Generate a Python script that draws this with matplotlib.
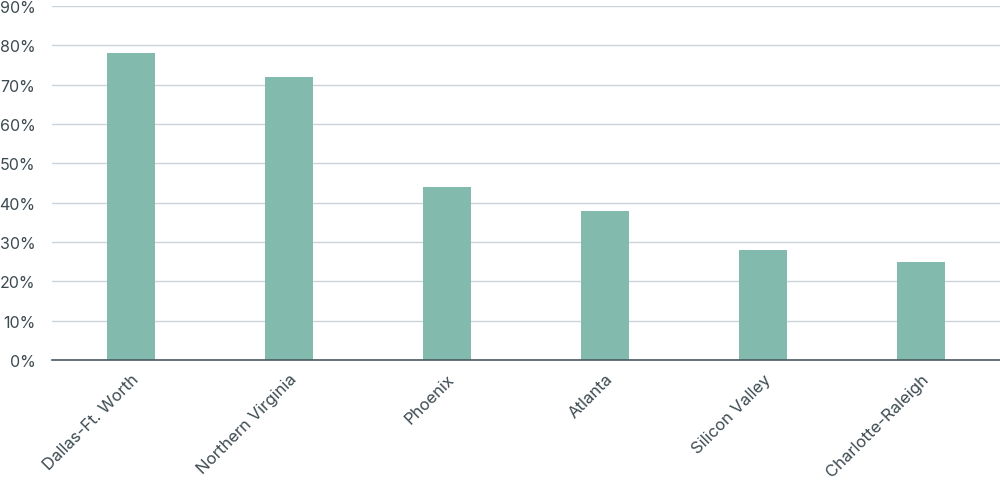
import matplotlib
matplotlib.use("Agg")
import matplotlib.pyplot as plt
from matplotlib.ticker import FuncFormatter, MultipleLocator

categories = ["Dallas-Ft. Worth", "Northern Virginia", "Phoenix", "Atlanta",
              "Silicon Valley", "Charlotte-Raleigh"]
values = [78, 72, 44, 38, 28, 25]

plt.rcParams['font.family'] = ['Inter', 'DejaVu Sans']
text_color = "#3c4a50"

fig = plt.figure(figsize=(10, 4.85), dpi=100)
ax = fig.add_axes([0.052, 0.2557, 0.948, 0.7299])
x = range(len(categories))
ax.bar(x, values, width=0.31, color="#82baad", zorder=3)
ax.set_xlim(-0.5, len(categories) - 0.5)
ax.set_ylim(0, 90)
ax.yaxis.set_major_locator(MultipleLocator(10))
ax.yaxis.set_major_formatter(FuncFormatter(lambda v, p: f"{v:.0f}%"))
ax.grid(axis="y", color="#c9d3d8", linewidth=1, zorder=0)
ax.set_axisbelow(True)
for s in ["top", "right", "left"]:
    ax.spines[s].set_visible(False)
ax.spines["bottom"].set_color("#4a5a60")
ax.spines["bottom"].set_linewidth(1.2)
ax.spines["bottom"].set_zorder(4)
ax.set_xticks(list(x))
ax.set_xticklabels(categories, rotation=45, ha="right", rotation_mode="anchor",
                   fontsize=12, color=text_color)
ax.tick_params(axis="x", length=0, pad=8)
ax.tick_params(axis="y", length=0, pad=12, labelsize=11.5, labelcolor=text_color)

fig.savefig("out.png", dpi=100)
